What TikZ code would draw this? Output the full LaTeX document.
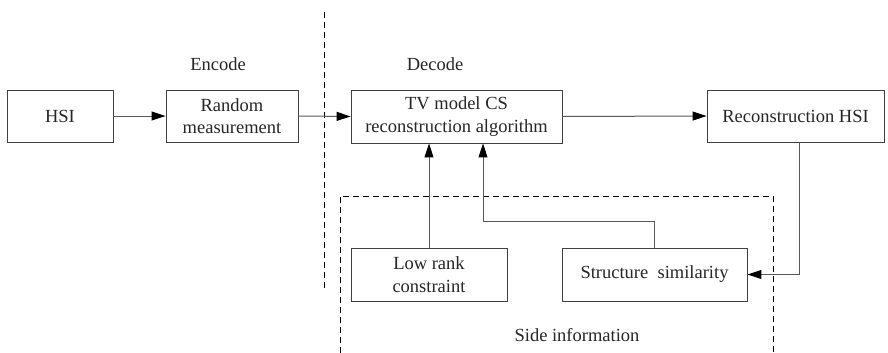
\documentclass[tikz,border=0pt]{standalone}
\usepackage{fontspec}
\setmainfont{Liberation Serif}
\usetikzlibrary{arrows.meta}
\begin{document}
\begin{tikzpicture}[x=1pt,y=-1pt,
  every node/.style={font=\fontsize{18.5}{22.5}\selectfont, text=black!85},
  blk/.style={draw=black!75, line width=0.9pt, align=center, inner sep=0pt, anchor=center},
  conn/.style={draw=black!65, line width=1pt},
  arr/.style={conn, -{Triangle[length=14pt,width=9pt,fill=black,color=black]}},
  dsh/.style={draw=black, line width=0.9pt, dash pattern=on 6pt off 4pt}]
\useasboundingbox (0,0) rectangle (888,353);
\fill[white] (0,0) rectangle (888,353);
% boxes
\node[blk, minimum width=106pt, minimum height=52pt] (hsi) at (60,116) {HSI};
\node[blk, minimum width=132pt, minimum height=52pt] (rm) at (232,116) {Random\\measurement};
\node[blk, minimum width=211pt, minimum height=53pt] (tv) at (456.5,116.5) {TV model CS\\reconstruction algorithm};
\node[blk, minimum width=177pt, minimum height=52pt] (rec) at (795.5,116) {Reconstruction HSI};
\node[blk, minimum width=156pt, minimum height=53pt] (lr) at (429,274.5) {Low rank\\constraint};
\node[blk, minimum width=185pt, minimum height=53pt] (ss) at (654.5,274.5) {Structure\ \ similarity};
% labels
\node (enc) at (218,64) {Encode};
\node (dec) at (435,64) {Decode};
\node (side) at (577,335) {Side information};
% dashed lines
\coordinate (dt) at (324,12);
\coordinate (db) at (324,290);
\draw[dsh] (dt) -- (db);
\coordinate (r1) at (340,353);
\coordinate (r2) at (340,196);
\coordinate (r3) at (773,196);
\coordinate (r4) at (773,353);
\draw[dsh] (r1) -- (r2) -- (r3) -- (r4);
% connectors
\draw[arr] (hsi.east) -- (rm.west);
\draw[arr] (rm.east) -- (tv.west);
\draw[arr] (tv.east) -- (rec.west);
\draw[arr] (lr.north) -- (lr.north |- tv.south);
\coordinate (k1) at (654,221);
\coordinate (k2) at (483,221);
\draw[arr] (k1 |- ss.north) -- (k1) -- (k2) -- (k2 |- tv.south);
\coordinate (k3) at (799,274.5);
\draw[arr] (k3 |- rec.south) -- (k3) -- (ss.east);
\end{tikzpicture}
\end{document}
